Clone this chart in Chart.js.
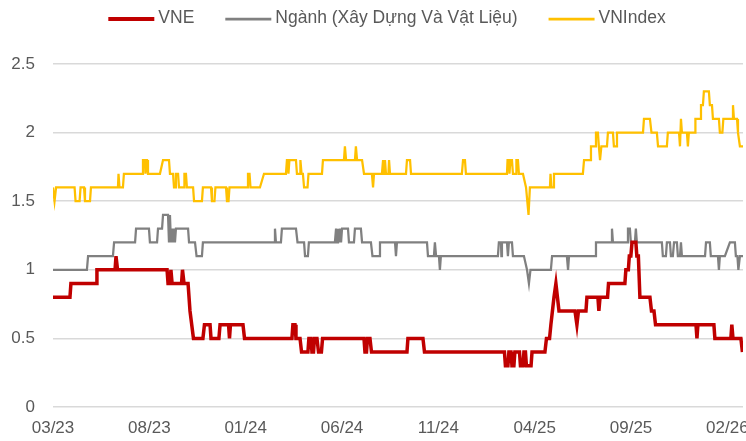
<!DOCTYPE html>
<html lang="vi">
<head>
  <meta charset="UTF-8">
  <title>VNE so với ngành và VNIndex</title>
  <script src="https://cdn.jsdelivr.net/npm/chart.js"></script>
  <style>
    body {
      margin: 0;
      background: #ffffff;
    }

    #chartBox {
      width: 746px;
      height: 441px;
    }
  </style>
</head>
<body>
  <div id="chartBox">
    <canvas id="pbChart"></canvas>
  </div>

  <script>
    // x = months since 03/2023, y = ratio; each pair is a vertex of the line
    const tickMonths = [0, 5, 10, 15, 20, 25, 30, 35];
    const tickLabels = ['03/23', '08/23', '01/24', '06/24', '11/24', '04/25', '09/25', '02/26'];
    const lastMonth = 35.81;

    const vne = [
      [0, 0.8], [0.88, 0.8], [0.93, 0.9], [2.26, 0.9], [2.28, 1.0], [3.22, 1.0], [3.27, 1.1], [3.35, 1.0],
      [5.92, 1.0], [5.97, 0.9], [6.07, 0.9], [6.12, 1.0], [6.18, 0.9], [6.67, 0.9], [6.72, 1.0], [6.80, 0.9],
      [7.01, 0.9], [7.11, 0.7], [7.29, 0.5], [7.78, 0.5], [7.86, 0.6], [8.15, 0.6], [8.20, 0.5], [8.61, 0.5],
      [8.67, 0.6], [9.11, 0.6], [9.16, 0.5], [9.21, 0.6], [9.86, 0.6], [9.94, 0.5], [12.40, 0.5], [12.45, 0.6],
      [12.56, 0.6], [12.61, 0.5], [12.82, 0.5], [12.90, 0.4], [13.23, 0.4], [13.28, 0.5], [13.39, 0.5],
      [13.44, 0.4], [13.52, 0.4], [13.57, 0.5], [13.70, 0.5], [13.78, 0.4], [13.93, 0.4], [13.99, 0.5],
      [16.14, 0.5], [16.19, 0.4], [16.27, 0.4], [16.32, 0.5], [16.45, 0.5], [16.53, 0.4], [18.37, 0.4],
      [18.42, 0.5], [19.20, 0.5], [19.28, 0.4], [23.43, 0.4], [23.48, 0.3], [23.61, 0.3], [23.66, 0.4],
      [23.77, 0.4], [23.82, 0.3], [23.92, 0.3], [23.97, 0.4], [24.21, 0.4], [24.26, 0.3], [24.39, 0.3],
      [24.44, 0.4], [24.52, 0.4], [24.57, 0.3], [24.81, 0.3], [24.86, 0.4], [25.53, 0.4], [25.61, 0.5],
      [25.77, 0.5], [25.84, 0.6], [25.92, 0.7], [26.00, 0.8], [26.10, 0.9], [26.18, 0.8], [26.26, 0.7],
      [27.09, 0.7], [27.19, 0.6], [27.27, 0.7], [27.66, 0.7], [27.71, 0.8], [28.28, 0.8], [28.33, 0.7],
      [28.39, 0.8], [28.78, 0.8], [28.83, 0.9], [29.68, 0.9], [29.73, 1.0], [29.86, 1.0], [29.91, 1.1],
      [29.99, 1.1], [30.05, 1.2], [30.25, 1.2], [30.30, 1.1], [30.38, 1.1], [30.46, 0.8], [30.98, 0.8],
      [31.06, 0.7], [31.19, 0.7], [31.27, 0.6], [33.37, 0.6], [33.42, 0.5], [33.47, 0.6], [34.30, 0.6],
      [34.35, 0.5], [35.18, 0.5], [35.23, 0.6], [35.29, 0.5], [35.70, 0.5], [35.78, 0.4]
    ];

    const nganh = [
      [0, 1.0], [1.76, 1.0], [1.82, 1.1], [3.11, 1.1], [3.17, 1.2], [4.26, 1.2], [4.31, 1.3], [4.98, 1.3],
      [5.03, 1.2], [5.40, 1.2], [5.45, 1.3], [5.66, 1.3], [5.71, 1.4], [5.97, 1.4], [6.02, 1.2], [6.07, 1.4],
      [6.12, 1.2], [6.18, 1.3], [6.23, 1.2], [6.28, 1.3], [6.33, 1.2], [6.38, 1.3], [7.01, 1.3], [7.06, 1.2],
      [7.37, 1.2], [7.45, 1.1], [7.73, 1.1], [7.78, 1.2], [11.47, 1.2], [11.52, 1.3], [11.57, 1.2],
      [11.83, 1.2], [11.88, 1.3], [12.61, 1.3], [12.69, 1.2], [13.03, 1.2], [13.08, 1.1], [13.23, 1.1],
      [13.28, 1.2], [14.63, 1.2], [14.69, 1.3], [14.74, 1.2], [14.79, 1.3], [14.84, 1.2], [14.89, 1.3],
      [14.95, 1.2], [15.00, 1.3], [15.31, 1.3], [15.36, 1.2], [15.62, 1.2], [15.67, 1.3], [15.98, 1.3],
      [16.04, 1.2], [16.50, 1.2], [16.58, 1.1], [16.92, 1.1], [16.97, 1.2], [17.75, 1.2], [17.80, 1.1],
      [17.85, 1.2], [19.41, 1.2], [19.46, 1.1], [19.77, 1.1], [19.82, 1.2], [19.88, 1.1], [20.03, 1.1],
      [20.08, 1.0], [20.13, 1.1], [23.09, 1.1], [23.14, 1.2], [23.25, 1.2], [23.27, 1.1], [23.30, 1.2],
      [23.56, 1.2], [23.61, 1.1], [23.66, 1.2], [23.82, 1.2], [23.87, 1.1], [24.44, 1.1], [24.60, 1.0],
      [24.70, 0.9], [24.78, 1.0], [25.84, 1.0], [25.90, 1.1], [26.67, 1.1], [26.73, 1.0], [26.78, 1.1],
      [28.13, 1.1], [28.18, 1.2], [28.96, 1.2], [29.01, 1.3], [29.06, 1.2], [29.79, 1.2], [29.84, 1.3],
      [29.94, 1.3], [29.99, 1.2], [30.20, 1.2], [30.25, 1.3], [30.30, 1.2], [31.60, 1.2], [31.65, 1.1],
      [31.81, 1.1], [31.86, 1.2], [32.02, 1.2], [32.07, 1.1], [32.17, 1.1], [32.23, 1.2], [32.38, 1.2],
      [32.43, 1.1], [32.54, 1.1], [32.59, 1.2], [32.64, 1.1], [33.84, 1.1], [33.89, 1.2], [34.09, 1.2],
      [34.14, 1.1], [34.51, 1.1], [34.56, 1.0], [34.61, 1.1], [34.87, 1.1], [35.13, 1.2], [35.39, 1.2],
      [35.44, 1.1], [35.52, 1.1], [35.57, 1.0], [35.65, 1.1], [35.81, 1.1]
    ];

    const vnindex = [
      [0, 1.6], [0.08, 1.5], [0.16, 1.6], [1.12, 1.6], [1.17, 1.5], [1.38, 1.5], [1.43, 1.6], [1.61, 1.6],
      [1.66, 1.5], [1.92, 1.5], [1.97, 1.6], [3.37, 1.6], [3.40, 1.7], [3.45, 1.6], [3.63, 1.6], [3.68, 1.7],
      [4.62, 1.7], [4.67, 1.8], [4.77, 1.8], [4.80, 1.7], [4.83, 1.8], [4.88, 1.8], [4.93, 1.7], [5.55, 1.7],
      [5.71, 1.8], [6.02, 1.8], [6.07, 1.7], [6.23, 1.7], [6.28, 1.6], [6.36, 1.6], [6.38, 1.7], [6.49, 1.7],
      [6.54, 1.6], [6.80, 1.6], [6.82, 1.7], [6.90, 1.7], [6.95, 1.6], [7.27, 1.6], [7.32, 1.5], [7.73, 1.5],
      [7.78, 1.6], [8.20, 1.6], [8.25, 1.5], [8.38, 1.5], [8.43, 1.6], [8.98, 1.6], [9.03, 1.5], [9.11, 1.5],
      [9.16, 1.6], [10.07, 1.6], [10.12, 1.7], [10.20, 1.7], [10.25, 1.6], [10.74, 1.6], [10.95, 1.7],
      [12.09, 1.7], [12.14, 1.8], [12.19, 1.8], [12.22, 1.7], [12.27, 1.8], [12.61, 1.8], [12.66, 1.7],
      [12.82, 1.7], [12.84, 1.8], [12.90, 1.7], [12.97, 1.7], [13.03, 1.6], [13.21, 1.6], [13.26, 1.7],
      [13.96, 1.7], [14.01, 1.8], [15.10, 1.8], [15.15, 1.9], [15.21, 1.8], [15.67, 1.8], [15.72, 1.9],
      [15.78, 1.8], [16.04, 1.8], [16.14, 1.7], [16.55, 1.7], [16.61, 1.6], [16.66, 1.7], [17.07, 1.7],
      [17.13, 1.8], [17.18, 1.7], [17.23, 1.8], [17.28, 1.7], [17.41, 1.7], [17.44, 1.8], [17.49, 1.7],
      [18.32, 1.7], [18.37, 1.8], [18.53, 1.8], [18.58, 1.7], [21.22, 1.7], [21.28, 1.8], [21.38, 1.8],
      [21.43, 1.7], [23.56, 1.7], [23.59, 1.8], [23.66, 1.8], [23.69, 1.7], [23.74, 1.8], [23.82, 1.8],
      [23.87, 1.7], [24.03, 1.7], [24.05, 1.8], [24.13, 1.8], [24.18, 1.7], [24.39, 1.7], [24.55, 1.6],
      [24.68, 1.4], [24.75, 1.6], [25.79, 1.6], [25.82, 1.7], [25.87, 1.6], [25.95, 1.6], [26.00, 1.7],
      [27.50, 1.7], [27.56, 1.8], [27.87, 1.8], [27.92, 1.9], [28.13, 1.9], [28.18, 2.0], [28.28, 2.0],
      [28.33, 1.9], [28.39, 1.8], [28.46, 1.9], [28.75, 1.9], [28.80, 2.0], [29.06, 2.0], [29.11, 1.9],
      [29.22, 1.9], [29.27, 2.0], [30.62, 2.0], [30.67, 2.1], [30.98, 2.1], [31.06, 2.0], [31.34, 2.0],
      [31.40, 1.9], [31.86, 1.9], [31.91, 2.0], [32.49, 2.0], [32.54, 1.9], [32.59, 2.1], [32.64, 2.0],
      [32.90, 2.0], [32.95, 1.9], [33.00, 2.0], [33.32, 2.0], [33.34, 2.1], [33.58, 2.1], [33.63, 2.2],
      [33.73, 2.2], [33.78, 2.3], [34.04, 2.3], [34.09, 2.2], [34.20, 2.2], [34.25, 2.1], [34.56, 2.1],
      [34.61, 2.0], [34.74, 2.0], [34.79, 2.1], [35.24, 2.1], [35.29, 2.2], [35.34, 2.1], [35.50, 2.1],
      [35.55, 2.0], [35.65, 1.9], [35.81, 1.9]
    ];

    const toPoints = (series) => series.map(([x, y]) => ({ x: x, y: y }));

    const fontFamily = "'Liberation Sans', Arial, sans-serif";
    Chart.defaults.font.family = fontFamily;
    Chart.defaults.font.size = 17;
    Chart.defaults.color = '#595959';

    // legend row across the top: short line sample then the series name
    const lineLegend = {
      id: 'lineLegend',
      afterDraw(chart) {
        const c = chart.ctx;
        const sets = chart.data.datasets;
        const sample = 46, gap = 4, spacing = 31, y = 18;
        c.save();
        c.font = '17.5px ' + fontFamily;
        c.textBaseline = 'middle';
        c.textAlign = 'left';
        const widths = sets.map(d => c.measureText(d.label).width);
        const total = widths.reduce((sum, w) => sum + sample + gap + w, 0) + spacing * (sets.length - 1);
        let x = chart.width / 2 + 14 - total / 2;
        sets.forEach((d, i) => {
          c.strokeStyle = d.borderColor;
          c.lineWidth = d.borderWidth + 0.5;
          c.beginPath();
          c.moveTo(x, y + 1);
          c.lineTo(x + sample, y + 1);
          c.stroke();
          x += sample + gap;
          c.fillStyle = '#595959';
          c.fillText(d.label, x, y);
          x += widths[i] + spacing;
        });
        c.restore();
      }
    };

    const ctx = document.getElementById('pbChart').getContext('2d');

    new Chart(ctx, {
      type: 'line',
      data: {
        datasets: [
          {
            label: 'VNE',
            data: toPoints(vne),
            borderColor: '#c00000',
            borderWidth: 3.5
          },
          {
            label: 'Ngành (Xây Dựng Và Vật Liệu)',
            data: toPoints(nganh),
            borderColor: '#808080',
            borderWidth: 2.25
          },
          {
            label: 'VNIndex',
            data: toPoints(vnindex),
            borderColor: '#ffc000',
            borderWidth: 2.25
          }
        ]
      },
      plugins: [lineLegend],
      options: {
        responsive: true,
        maintainAspectRatio: false,
        animation: false,
        events: [],
        elements: {
          point: { radius: 0 },
          line: { tension: 0, fill: false }
        },
        layout: {
          padding: { top: 64, right: 3, bottom: 0, left: 0 }
        },
        plugins: {
          tooltip: { enabled: false },
          legend: { display: false }
        },
        scales: {
          x: {
            type: 'linear',
            min: 0,
            max: lastMonth,
            grid: { display: false, drawTicks: false },
            border: { display: false },
            afterBuildTicks: function(axis) {
              axis.ticks = tickMonths.map(v => ({ value: v }));
            },
            afterFit: function(axis) {
              axis.paddingLeft = 0;
              axis.paddingRight = 0;
              axis.height = 34;
            },
            ticks: {
              autoSkip: false,
              maxRotation: 0,
              padding: 11,
              callback: function(value) {
                const i = tickMonths.indexOf(value);
                return i >= 0 ? tickLabels[i] : '';
              }
            }
          },
          y: {
            min: 0,
            max: 2.5,
            border: { display: false },
            grid: {
              color: '#d9d9d9',
              lineWidth: 1.5,
              drawTicks: false
            },
            afterFit: function(axis) {
              axis.width = 53;
              axis.paddingTop = 0;
              axis.paddingBottom = 0;
            },
            ticks: {
              stepSize: 0.5,
              padding: 18,
              callback: function(value) {
                return String(value);
              }
            }
          }
        }
      }
    });
  </script>
</body>
</html>
